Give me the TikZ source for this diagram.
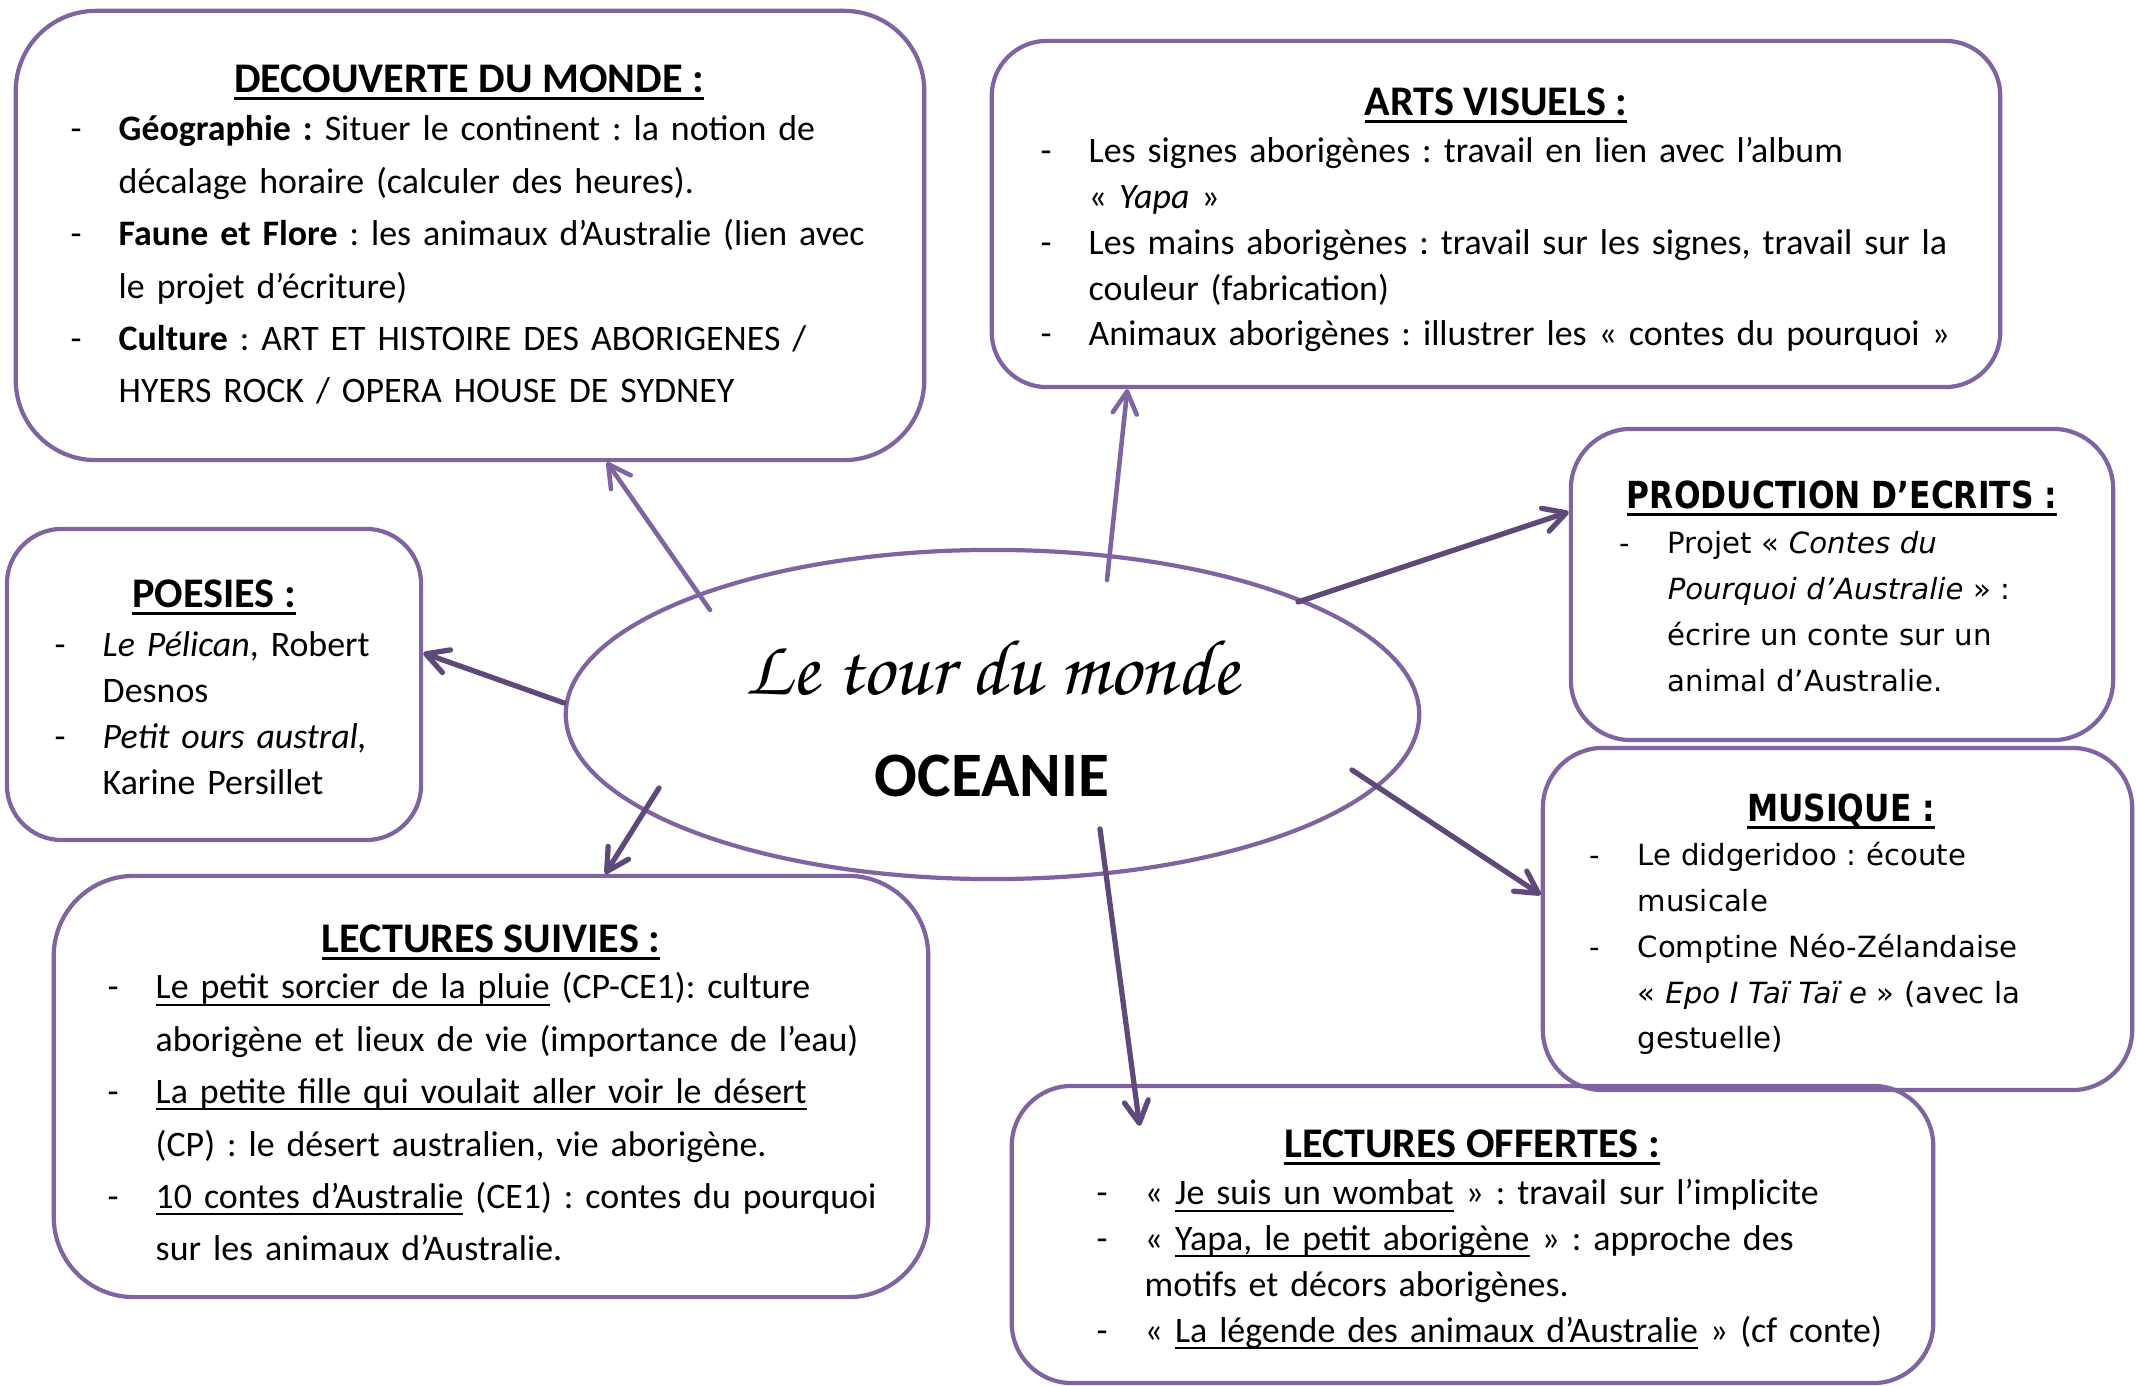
\documentclass[tikz,border=0pt]{standalone}
\usepackage{fontspec}
\setmainfont{Carlito}
\newfontfamily\verdana{DejaVu Sans}
\newfontfamily\verdanaetroit[FakeStretch=0.84]{DejaVu Sans}
\newfontfamily\ecriture{texgyrechorus-mediumitalic.otf}
\usetikzlibrary{arrows.meta,calc,shapes.geometric}
\frenchspacing

\definecolor{violetclair}{HTML}{8064A2}
\definecolor{violetfonce}{HTML}{5F497A}

\newlength\retrait
\setlength\retrait{4.8mm}
\newcommand\tiret[1]{\noindent\hangindent=\retrait\hangafter=1\makebox[\retrait][l]{-}#1\par}
\newcommand\souligne[2][0.6pt]{\setbox0=\hbox{#2}\rlap{\rule[-1.9pt]{\wd0}{#1}}\box0\relax}
\newcommand\soustitre[1]{\souligne[0.9pt]{#1}}

\begin{document}
\begin{tikzpicture}[x=0.01cm, y=-0.01cm,
	boite/.style={draw=violetclair, line width=1.2pt, rounded corners=5.5mm, inner sep=0},
	titre/.style={inner sep=0, anchor=base, font=\bfseries\fontsize{12}{14}\selectfont},
	liste/.style={inner sep=0, anchor=base west, text width=10cm, align=left, font=\fontsize{10.2}{13}\selectfont},
	fleche/.style={line width=1.5pt, line cap=round, draw=violetfonce, -{Straight Barb[round,length=2.2mm,width=2.4mm]}}]
	%%%%% START %%%%%
	
	\useasboundingbox (0,0) rectangle (2136,1386);
	
	% les cadres
	\node[boite, rounded corners=8mm, minimum width=9.08cm, minimum height=4.49cm] (decouv) at (470,235.5) {};
	\node[boite, minimum width=10.08cm, minimum height=3.46cm] (arts) at (1496,214) {};
	\node[boite, rounded corners=6mm, minimum width=5.42cm, minimum height=3.11cm] (prod) at (1842,584.5) {};
	\node[boite, minimum width=4.14cm, minimum height=3.11cm] (poes) at (214,684.5) {};
	\node[boite, rounded corners=6mm, minimum width=5.89cm, minimum height=3.42cm] (musi) at (1837.5,919) {};
	\node[boite, rounded corners=8mm, minimum width=8.74cm, minimum height=4.21cm] (suiv) at (491,1086.5) {};
	\node[boite, rounded corners=6mm, minimum width=9.21cm, minimum height=2.97cm] (offe) at (1472.5,1234.5) {};
	
	% le centre
	\node[ellipse, draw=violetclair, line width=1.2pt, minimum width=8.53cm, minimum height=3.29cm, inner sep=0] (centre) at (992.5,714.5) {};
	\node[inner sep=0, anchor=base, font=\ecriture\fontsize{22.5}{26}\selectfont] (tour) at (992,695) {Le tour du monde};
	\node[inner sep=0, font=\bfseries\fontsize{18}{20}\selectfont] (oceanie) at (992,776) {OCEANIE};
	
	% DECOUVERTE DU MONDE
	\node[titre] (decouv-t) at (469,93) {\soustitre{DECOUVERTE DU MONDE :}};
	\node[liste, font=\fontsize{10.2}{14.9}\selectfont] (decouv-l) at (70,141) {
		\tiret{\textbf{Géographie :} Situer le continent : la notion de\newline décalage horaire (calculer des heures).}
		\tiret{\textbf{Faune et Flore} : les animaux d’Australie (lien avec\newline le projet d’écriture)}
		\tiret{\textbf{Culture} : ART ET HISTOIRE DES ABORIGENES /\newline HYERS ROCK / OPERA HOUSE DE SYDNEY}
	};
	
	% ARTS VISUELS
	\node[titre] (arts-t) at (1496,116) {\soustitre{ARTS VISUELS :}};
	\node[liste] (arts-l) at (1040,163) {
		\tiret{Les signes aborigènes : travail en lien avec l’album\newline «~\textit{Yapa}~»}
		\tiret{Les mains aborigènes : travail sur les signes, travail sur la\newline couleur (fabrication)}
		\tiret{Animaux aborigènes : illustrer les «~contes du pourquoi~»}
	};
	
	% PRODUCTION D'ECRITS
	\node[titre, font=\verdanaetroit\bfseries\fontsize{10.6}{12}\selectfont] (prod-t) at (1842,509) {\soustitre{PRODUCTION D’ECRITS :}};
	\node[liste, font=\verdana\fontsize{8.3}{13}\selectfont] (prod-l) at (1619,554) {
		\tiret{Projet «~\textit{Contes du}\newline\textit{Pourquoi d’Australie}~» :\newline écrire un conte sur un\newline animal d’Australie.}
	};
	
	% POESIES
	\node[titre] (poes-t) at (214,608) {\soustitre{POESIES :}};
	\node[liste] (poes-l) at (54,657) {
		\tiret{\textit{Le Pélican}, Robert\newline Desnos}
		\tiret{\textit{Petit ours austral,}\newline Karine Persillet}
	};
	
	% MUSIQUE
	\node[titre, font=\verdanaetroit\bfseries\fontsize{10.6}{12}\selectfont] (musi-t) at (1841,822) {\soustitre{MUSIQUE :}};
	\node[liste, font=\verdana\fontsize{8.3}{13}\selectfont] (musi-l) at (1589,866) {
		\tiret{Le didgeridoo : écoute\newline musicale}
		\tiret{Comptine Néo-Zélandaise\newline «~\textit{Epo I Taï Taï e}~» (avec la\newline gestuelle)}
	};
	
	% LECTURES SUIVIES
	\node[titre] (suiv-t) at (491,953) {\soustitre{LECTURES SUIVIES :}};
	\node[liste, font=\fontsize{10.2}{14.9}\selectfont] (suiv-l) at (107,999) {
		\tiret{\souligne{Le petit sorcier de la pluie} (CP-CE1): culture\newline aborigène et lieux de vie (importance de l’eau)}
		\tiret{\souligne{La petite fille qui voulait aller voir le désert}\newline (CP) : le désert australien, vie aborigène.}
		\tiret{\souligne{10 contes d’Australie} (CE1) : contes du pourquoi\newline sur les animaux d’Australie.}
	};
	
	% LECTURES OFFERTES
	\node[titre] (offe-t) at (1472,1158) {\soustitre{LECTURES OFFERTES :}};
	\node[liste] (offe-l) at (1096,1205) {
		\tiret{«~\souligne{Je suis un wombat}~» : travail sur l’implicite}
		\tiret{«~\souligne{Yapa, le petit aborigène}~» : approche des\newline motifs et décors aborigènes.}
		\tiret{«~\souligne{La légende des animaux d’Australie}~» (cf conte)}
	};
	
	% les fleches
	\coordinate (d0) at (710,610);
	\coordinate (a0) at (1107,580);
	\coordinate (p0) at (1298,602);
	\coordinate (s0) at (564,703);
	\coordinate (m0) at (1352,770);
	\coordinate (l0) at (659,788);
	\coordinate (o0) at (1100,829);
	
	\draw[fleche, draw=violetclair, line width=1.3pt] (d0) -- ($(decouv.south west)!0.65!(decouv.south east)$);
	\draw[fleche, draw=violetclair, line width=1.3pt] (a0) -- ($(arts.south west)!0.136!(arts.south east)$);
	\draw[fleche] (p0) -- ($(prod.north west)!0.27!(prod.south west)$);
	\draw[fleche] (s0) -- ($(poes.north east)!0.40!(poes.south east)$);
	\draw[fleche] (m0) -- ($(musi.north west)!0.43!(musi.south west)$);
	\draw[fleche] (l0) -- ($(suiv.north west)!0.63!(suiv.north east)$);
	\draw[fleche] (o0) -- ($(offe.north west)+(130,42)$);
	
	%%%%% END %%%%%
\end{tikzpicture}
\end{document}
